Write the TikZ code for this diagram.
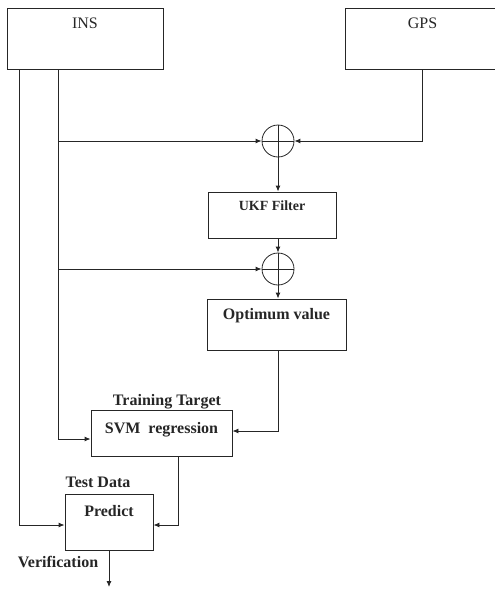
\documentclass[tikz,border=0pt]{standalone}
\usepackage{fontspec}
\setmainfont{Liberation Serif}
\usetikzlibrary{arrows.meta,positioning}
\definecolor{lineblack}{HTML}{262626}

\begin{document}
\begin{tikzpicture}[
    x=1pt, y=-1pt,
    >={Latex[length=6pt,width=5pt]},
    every node/.style={font=\fontsize{16}{18}\selectfont\bfseries, text=lineblack},
    blk/.style={draw=lineblack, line width=0.9pt, inner sep=0pt},
    inlbl/.style={anchor=north, yshift=#1},
    sum/.style={circle, draw=lineblack, line width=0.8pt, minimum size=32pt, inner sep=0pt,
        path picture={\draw[lineblack, line width=0.8pt]
            (path picture bounding box.north) -- (path picture bounding box.south)
            (path picture bounding box.west) -- (path picture bounding box.east);}},
    wire/.style={draw=lineblack, line width=0.9pt}
]
\useasboundingbox (0,0) rectangle (495,589);

% Sources
\node[blk, minimum width=156pt, minimum height=61pt,
    label={[inlbl=-7pt, font=\fontsize{16}{18}\selectfont]north:INS}] (ins) at (85,38.5) {};
\node[blk, minimum width=155pt, minimum height=61pt,
    label={[inlbl=-7pt, font=\fontsize{16}{18}\selectfont]north:GPS}] (gps) at (422.5,38.5) {};

% Fusion chain
\node[sum] (sum1) at (278,141) {};
\node[blk, minimum width=128pt, minimum height=46pt,
    label={[inlbl=-6pt, font=\fontsize{14}{16}\selectfont\bfseries]north:UKF Filter}] (ukf) at (272,215) {};
\node[sum] (sum2) at (278,269) {};
\node[blk, minimum width=139pt, minimum height=51pt,
    label={[inlbl=-6pt]north:Optimum value}] (opt) at (276.5,324.5) {};

% Learning
\node[blk, minimum width=141pt, minimum height=46pt,
    label={[inlbl=-9pt]north:SVM\ \ regression}] (svm) at (161.5,433) {};
\node (trn) at (167,402) {Training Target};
\node[blk, minimum width=88pt, minimum height=56pt,
    label={[inlbl=-8pt]north:Predict}] (pred) at (109,522) {};
\node (tst) at (98,482) {Test Data};
\node (ver) at (58,562) {Verification};

\coordinate (ltap) at (19,0);
\coordinate (mtap) at (58,0);
\coordinate (rtap) at (178,0);
\coordinate (out) at (0,587);

% Connectors
\draw[wire, ->] (ins.south -| ltap) |- ([yshift=-3pt]pred.west);
\draw[wire, ->] (ins.south -| mtap) |- ([yshift=-6pt]svm.west);
\draw[wire, ->] (sum1.west -| mtap) -- (sum1.west);
\draw[wire, ->] (sum2.west -| mtap) -- (sum2.west);
\draw[wire, ->] (gps.south) |- (sum1.east);
\draw[wire, ->] (sum1.south) -- (sum1.south |- ukf.north);
\draw[wire, ->] (sum2.north |- ukf.south) -- (sum2.north);
\draw[wire, ->] (sum2.south) -- (sum2.south |- opt.north);
\draw[wire, ->] (opt.south -| sum2) |- ([yshift=2pt]svm.east);
\draw[wire, ->] (svm.south -| rtap) |- ([yshift=-3pt]pred.east);
\draw[wire, ->] (pred.south) -- (pred.south |- out);
\end{tikzpicture}
\end{document}
